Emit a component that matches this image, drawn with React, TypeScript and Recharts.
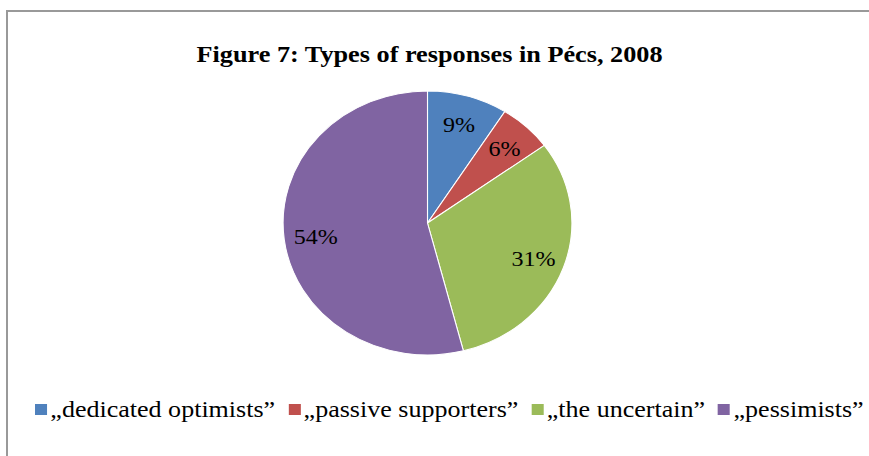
import React from "react";
import { PieChart, Pie, Cell, Legend } from "recharts";

const labels = [
  "\u201ededicated optimists\u201d",
  "\u201epassive supporters\u201d",
  "\u201ethe uncertain\u201d",
  "\u201epessimists\u201d",
];
const values = [9, 6, 31, 54];
const colors = ["#4F81BD", "#C0504D", "#9BBB59", "#8064A2"];
const title = "Figure 7: Types of responses in P\u00e9cs, 2008";

const data = labels.map((name, i) => ({ name, value: values[i] }));

const SX = 1.094;
const W = 869 / SX;
const H = 456;
const CX = 427.5 / SX;
const CY = 223;
const R = 132;
const FONT = "'Liberation Serif', 'Times New Roman', serif";

const renderLabel = (props: any) => {
  const { cx, cy, midAngle, outerRadius, value } = props;
  const RAD = Math.PI / 180;
  const r = outerRadius * 0.78;
  const x = cx + r * Math.cos(-midAngle * RAD);
  const y = cy + r * Math.sin(-midAngle * RAD);
  return (
    <text
      x={x}
      y={y}
      textAnchor="middle"
      dominantBaseline="central"
      fontFamily={FONT}
      fontSize={22}
      fill="#000"
    >
      {`${value}%`}
    </text>
  );
};

const renderLegend = () => (
  <div
    style={{
      display: "flex",
      alignItems: "center",
      whiteSpace: "nowrap",
      fontFamily: FONT,
      fontSize: 23.8,
      color: "#000",
    }}
  >
    {labels.map((l, i) => (
      <span
        key={l}
        style={{ display: "inline-flex", alignItems: "center", marginRight: 12 }}
      >
        <span
          style={{
            display: "inline-block",
            width: 11,
            height: 11,
            background: colors[i],
            marginRight: 3,
          }}
        />
        <span>{l}</span>
      </span>
    ))}
  </div>
);

export default function App() {
  return (
    <div
      style={{
        position: "absolute",
        left: 0,
        top: 0,
        width: 869,
        height: 456,
        overflow: "hidden",
        background: "#fff",
      }}
    >
      <div
        style={{
          position: "absolute",
          left: 6,
          top: 10,
          width: 1000,
          height: 1000,
          borderLeft: "2px solid #999",
          borderTop: "2px solid #999",
        }}
      />
      <div
        style={{
          position: "absolute",
          left: 0,
          top: 0,
          width: W,
          height: H,
          transform: `scaleX(${SX})`,
          transformOrigin: "0 0",
        }}
      >
        <PieChart width={W} height={H} margin={{ top: 0, right: 0, bottom: 0, left: 0 }}>
          <text
            x={392.6}
            y={62}
            textAnchor="middle"
            fontFamily={FONT}
            fontWeight="bold"
            fontSize={24}
            fill="#000"
          >
            {title}
          </text>
          <Pie
            data={data}
            dataKey="value"
            nameKey="name"
            cx={CX}
            cy={CY}
            outerRadius={R}
            startAngle={90}
            endAngle={-270}
            stroke="#fff"
            strokeWidth={1}
            label={renderLabel}
            labelLine={false}
            isAnimationActive={false}
          >
            {data.map((d, i) => (
              <Cell key={d.name} fill={colors[i]} />
            ))}
          </Pie>
          <Legend
            content={renderLegend}
            verticalAlign="bottom"
            wrapperStyle={{ left: 32, top: 396, bottom: "auto", width: "auto" }}
          />
        </PieChart>
      </div>
    </div>
  );
}
